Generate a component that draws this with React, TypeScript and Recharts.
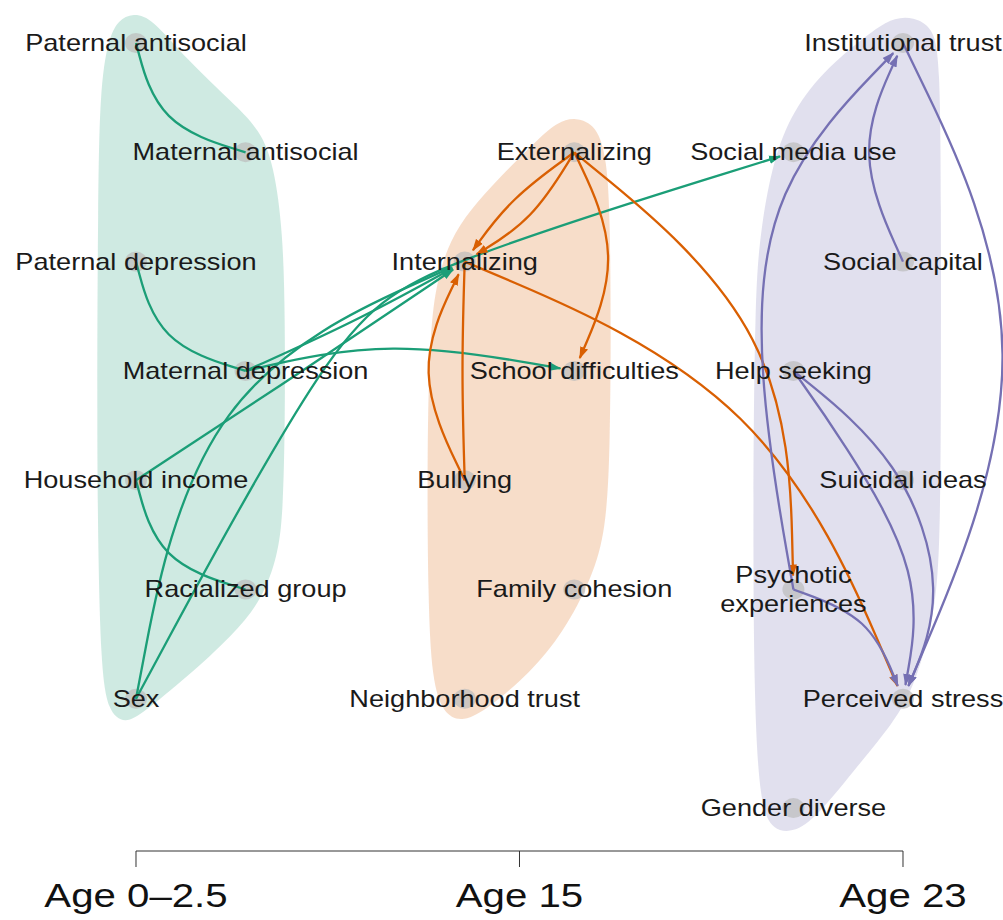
import React from 'react';
import { ComposedChart, XAxis, YAxis, Line, Scatter, ReferenceLine } from 'recharts';

// ---------- layout constants ----------
const CHART_W = 1003;
const CHART_H = 920;
const AXIS_H = 69;
const X_DOMAIN: [number, number] = [-1.2412, 7.9128];
const Y_DOMAIN: [number, number] = [-0.3934, 7.3925];
const PX_PER_X = CHART_W / (X_DOMAIN[1] - X_DOMAIN[0]);
const PX_PER_Y = (CHART_H - AXIS_H) / (Y_DOMAIN[1] - Y_DOMAIN[0]);

// ---------- axis ----------
const ageTicks = [0, 3.5, 7];
const ageLabels = ['Age 0–2.5', 'Age 15', 'Age 23'];

// ---------- colours ----------
const GREEN = '#1b9e77';
const ORANGE = '#d95f02';
const PURPLE = '#7570b3';

// ---------- nodes (grid position: x = column slot, y = row) ----------
const earlyNodes = [
  { name: 'Paternal antisocial', x: 0, y: 0 },
  { name: 'Maternal antisocial', x: 1, y: 1 },
  { name: 'Paternal depression', x: 0, y: 2 },
  { name: 'Maternal depression', x: 1, y: 3 },
  { name: 'Household income', x: 0, y: 4 },
  { name: 'Racialized group', x: 1, y: 5 },
  { name: 'Sex', x: 0, y: 6 },
];
const midNodes = [
  { name: 'Externalizing', x: 4, y: 1 },
  { name: 'Internalizing', x: 3, y: 2 },
  { name: 'School difficulties', x: 4, y: 3 },
  { name: 'Bullying', x: 3, y: 4 },
  { name: 'Family cohesion', x: 4, y: 5 },
  { name: 'Neighborhood trust', x: 3, y: 6 },
];
const lateNodes = [
  { name: 'Institutional trust', x: 7, y: 0 },
  { name: 'Social media use', x: 6, y: 1 },
  { name: 'Social capital', x: 7, y: 2 },
  { name: 'Help seeking', x: 6, y: 3 },
  { name: 'Suicidal ideas', x: 7, y: 4 },
  { name: 'Psychotic\nexperiences', x: 6, y: 5 },
  { name: 'Perceived stress', x: 7, y: 6 },
  { name: 'Gender diverse', x: 6, y: 7 },
];

// ---------- hull outlines ----------
const earlyHull = [
  [-0.027, -0.275], [0.146, -0.229], [0.465, 0.155], [0.885, 0.549], [1.132, 0.796],
  [1.259, 1.116], [1.342, 1.738], [1.36, 2.534], [1.36, 3.449], [1.342, 4.3],
  [1.296, 4.684], [1.15, 5.096], [0.885, 5.416], [0.465, 5.801], [0.064, 6.13],
  [-0.1, 6.231], [-0.256, 6.121], [-0.319, 5.709], [-0.347, 4.639], [-0.356, 3.266],
  [-0.347, 1.436], [-0.329, 0.43], [-0.256, -0.027], [-0.164, -0.21],
];
const midHull = [
  [4.007, 0.677], [4.207, 0.75], [4.299, 1.07], [4.326, 1.619], [4.335, 2.626],
  [4.326, 3.724], [4.29, 4.456], [4.162, 4.895], [3.898, 5.398], [3.596, 5.764],
  [3.231, 6.075], [2.984, 6.221], [2.802, 6.139], [2.701, 5.828], [2.665, 5.096],
  [2.656, 3.724], [2.683, 2.626], [2.747, 2.168], [2.866, 1.802], [3.048, 1.528],
  [3.322, 1.226], [3.687, 0.86], [3.851, 0.723],
];
const lateHull = [
  [7.091, -0.238], [7.274, -0.146], [7.338, 0.156], [7.347, 1.436], [7.347, 3.266],
  [7.338, 4.73], [7.274, 5.306], [7.091, 5.92], [6.909, 6.221], [6.608, 6.587],
  [6.215, 7.081], [5.996, 7.228], [5.814, 7.2], [5.695, 6.99], [5.64, 6.011],
  [5.631, 4.181], [5.649, 2.351], [5.695, 1.738], [5.814, 1.07], [5.996, 0.613],
  [6.306, 0.22], [6.763, -0.146], [6.927, -0.229],
];

// ---------- edges: [from, to, bend points, directed] ----------
type EdgeDef = [string, string, number[][], boolean];
const earlyEdges: EdgeDef[] = [
  ['Paternal antisocial', 'Maternal antisocial', [[0.2, 0.75]], false],
  ['Paternal depression', 'Maternal depression', [[0.2, 2.75]], false],
  ['Household income', 'Racialized group', [[0.2, 4.75]], false],
  ['Maternal depression', 'Internalizing', [[2.0, 2.55]], true],
  ['Maternal depression', 'School difficulties', [[2.3, 2.7]], true],
  ['Household income', 'Internalizing', [[1.6, 2.95]], true],
  ['Sex', 'Internalizing', [[0.55, 3.1]], true],
  ['Sex', 'Social media use', [[1.82, 2.61], [2.62, 2.05]], true],
];
const midEdges: EdgeDef[] = [
  ['Externalizing', 'Internalizing', [[3.42, 1.42]], true],
  ['Externalizing', 'Internalizing', [[3.62, 1.62]], true],
  ['Externalizing', 'School difficulties', [[4.45, 1.95]], true],
  ['Externalizing', 'Psychotic\nexperiences', [[5.94, 2.6]], true],
  ['Internalizing', 'Perceived stress', [[5.79, 3.19]], true],
  ['Bullying', 'Internalizing', [[2.52, 3.0]], true],
  ['Internalizing', 'Bullying', [[2.97, 3.0]], false],
];
const lateEdges: EdgeDef[] = [
  ['Social capital', 'Institutional trust', [[6.55, 1.0]], true],
  ['Psychotic\nexperiences', 'Institutional trust', [[5.65, 3.0], [5.75, 1.3]], true],
  ['Institutional trust', 'Perceived stress', [[8.35, 2.8]], true],
  ['Help seeking', 'Perceived stress', [[6.435, 3.61], [7.2, 4.87]], true],
  ['Help seeking', 'Perceived stress', [[7.0, 3.81], [7.4, 5.05]], true],
  ['Psychotic\nexperiences', 'Perceived stress', [[6.7, 5.25]], true],
];

const allNodes = [...earlyNodes, ...midNodes, ...lateNodes];
const nodeByName: Record<string, { x: number; y: number }> = {};
allNodes.forEach((n) => (nodeByName[n.name] = n));

const ARROW_CAP_PX = 14;

function buildEdge(e: EdgeDef) {
  const [from, to, via, directed] = e;
  const a = nodeByName[from];
  const b = nodeByName[to];
  const last = via.length ? via[via.length - 1] : [a.x, a.y];
  let end = { x: b.x, y: b.y };
  if (directed) {
    const dxp = (b.x - last[0]) * PX_PER_X;
    const dyp = (b.y - last[1]) * PX_PER_Y;
    const len = Math.sqrt(dxp * dxp + dyp * dyp) || 1;
    end = {
      x: b.x - ((dxp / len) * ARROW_CAP_PX) / PX_PER_X,
      y: b.y - ((dyp / len) * ARROW_CAP_PX) / PX_PER_Y,
    };
  }
  return [{ x: a.x, y: a.y }, ...via.map((p) => ({ x: p[0], y: p[1] })), end];
}

const hullData = (h: number[][]) => h.map((p) => ({ x: p[0], y: p[1] }));

const FONT = '"Liberation Sans", Arial, Helvetica, sans-serif';

const NodeDot = (props: any) => {
  const { cx, cy } = props;
  if (cx == null || cy == null) return <g />;
  return <ellipse cx={cx} cy={cy} rx={11} ry={10} fill="#bcbcbc" fillOpacity={0.7} />;
};

const NodeLabel = (props: any) => {
  const { cx, cy, payload } = props;
  if (cx == null || cy == null) return <g />;
  const lines: string[] = String(payload.name).split('\n');
  const lh = 30;
  const y0 = 8 - ((lines.length - 1) * lh) / 2;
  return (
    <g transform={`translate(${cx},${cy}) scale(1.18,1)`}>
      <text
        x={0}
        y={y0}
        textAnchor="middle"
        fontFamily={FONT}
        fontSize={23}
        fill="#1a1a1a"
      >
        {lines.map((l, i) => (
          <tspan key={i} x={0} y={y0 + i * lh}>
            {l}
          </tspan>
        ))}
      </text>
    </g>
  );
};

const AgeTick = (props: any) => {
  const { x, y, payload } = props;
  const idx = ageTicks.indexOf(payload.value);
  const label = idx >= 0 ? ageLabels[idx] : String(payload.value);
  return (
    <g transform={`translate(${x},${y + 38}) scale(1.2,1)`}>
      <text x={0} y={0} textAnchor="middle" fontFamily={FONT} fontSize={33.5} fill="#111">
        {label}
      </text>
    </g>
  );
};

const edgeGroups = [
  { key: 'g', color: GREEN, edges: earlyEdges },
  { key: 'o', color: ORANGE, edges: midEdges },
  { key: 'p', color: PURPLE, edges: lateEdges },
];

export default function App() {
  return (
    <div style={{ position: 'absolute', left: 0, top: 0, width: CHART_W, height: CHART_H, background: '#fff' }}>
      <style>{`
        .hull-g path { fill: ${GREEN}; fill-opacity: 0.21; }
        .hull-o path { fill: ${ORANGE}; fill-opacity: 0.21; }
        .hull-p path { fill: ${PURPLE}; fill-opacity: 0.22; }
      `}</style>
      <ComposedChart width={CHART_W} height={CHART_H} margin={{ top: 0, right: 0, bottom: 0, left: 0 }}>
        <defs>
          {edgeGroups.map((g) => (
            <marker
              key={g.key}
              id={`arrow-${g.key}`}
              viewBox="0 0 12 10"
              refX={11}
              refY={5}
              markerWidth={12}
              markerHeight={10}
              markerUnits="userSpaceOnUse"
              orient="auto"
            >
              <path d="M0,0.8 L12,5 L0,9.2 Z" fill={g.color} />
            </marker>
          ))}
        </defs>
        <XAxis
          dataKey="x"
          type="number"
          domain={X_DOMAIN}
          allowDataOverflow
          ticks={ageTicks}
          interval={0}
          axisLine={false}
          tickLine={{ stroke: '#333', strokeWidth: 1 }}
          tickSize={16}
          tickMargin={2}
          height={AXIS_H}
          tick={<AgeTick />}
        />
        <YAxis dataKey="y" type="number" domain={Y_DOMAIN} allowDataOverflow reversed hide width={0} />

        <Line className="hull-g" data={hullData(earlyHull)} dataKey="y" type="basisClosed" stroke="none" dot={false} activeDot={false} isAnimationActive={false} legendType="none" zIndex={100} />
        <Line className="hull-o" data={hullData(midHull)} dataKey="y" type="basisClosed" stroke="none" dot={false} activeDot={false} isAnimationActive={false} legendType="none" zIndex={100} />
        <Line className="hull-p" data={hullData(lateHull)} dataKey="y" type="basisClosed" stroke="none" dot={false} activeDot={false} isAnimationActive={false} legendType="none" zIndex={100} />

        <Scatter data={allNodes} dataKey="y" shape={<NodeDot />} isAnimationActive={false} legendType="none" zIndex={200} />

        {edgeGroups.map((g) =>
          g.edges.map((e, i) => (
            <Line
              key={`${g.key}-${i}`}
              data={buildEdge(e)}
              dataKey="y"
              type="basis"
              stroke={g.color}
              strokeWidth={2.3}
              dot={false}
              activeDot={false}
              isAnimationActive={false}
              legendType="none"
              markerEnd={e[3] ? `url(#arrow-${g.key})` : undefined}
              zIndex={300}
            />
          ))
        )}

        <ReferenceLine
          segment={[
            { x: ageTicks[0], y: Y_DOMAIN[1] },
            { x: ageTicks[ageTicks.length - 1], y: Y_DOMAIN[1] },
          ]}
          stroke="#333"
          strokeWidth={1}
          zIndex={400}
        />

        <Scatter data={allNodes} dataKey="y" shape={<NodeLabel />} isAnimationActive={false} legendType="none" zIndex={500} />
      </ComposedChart>
    </div>
  );
}
